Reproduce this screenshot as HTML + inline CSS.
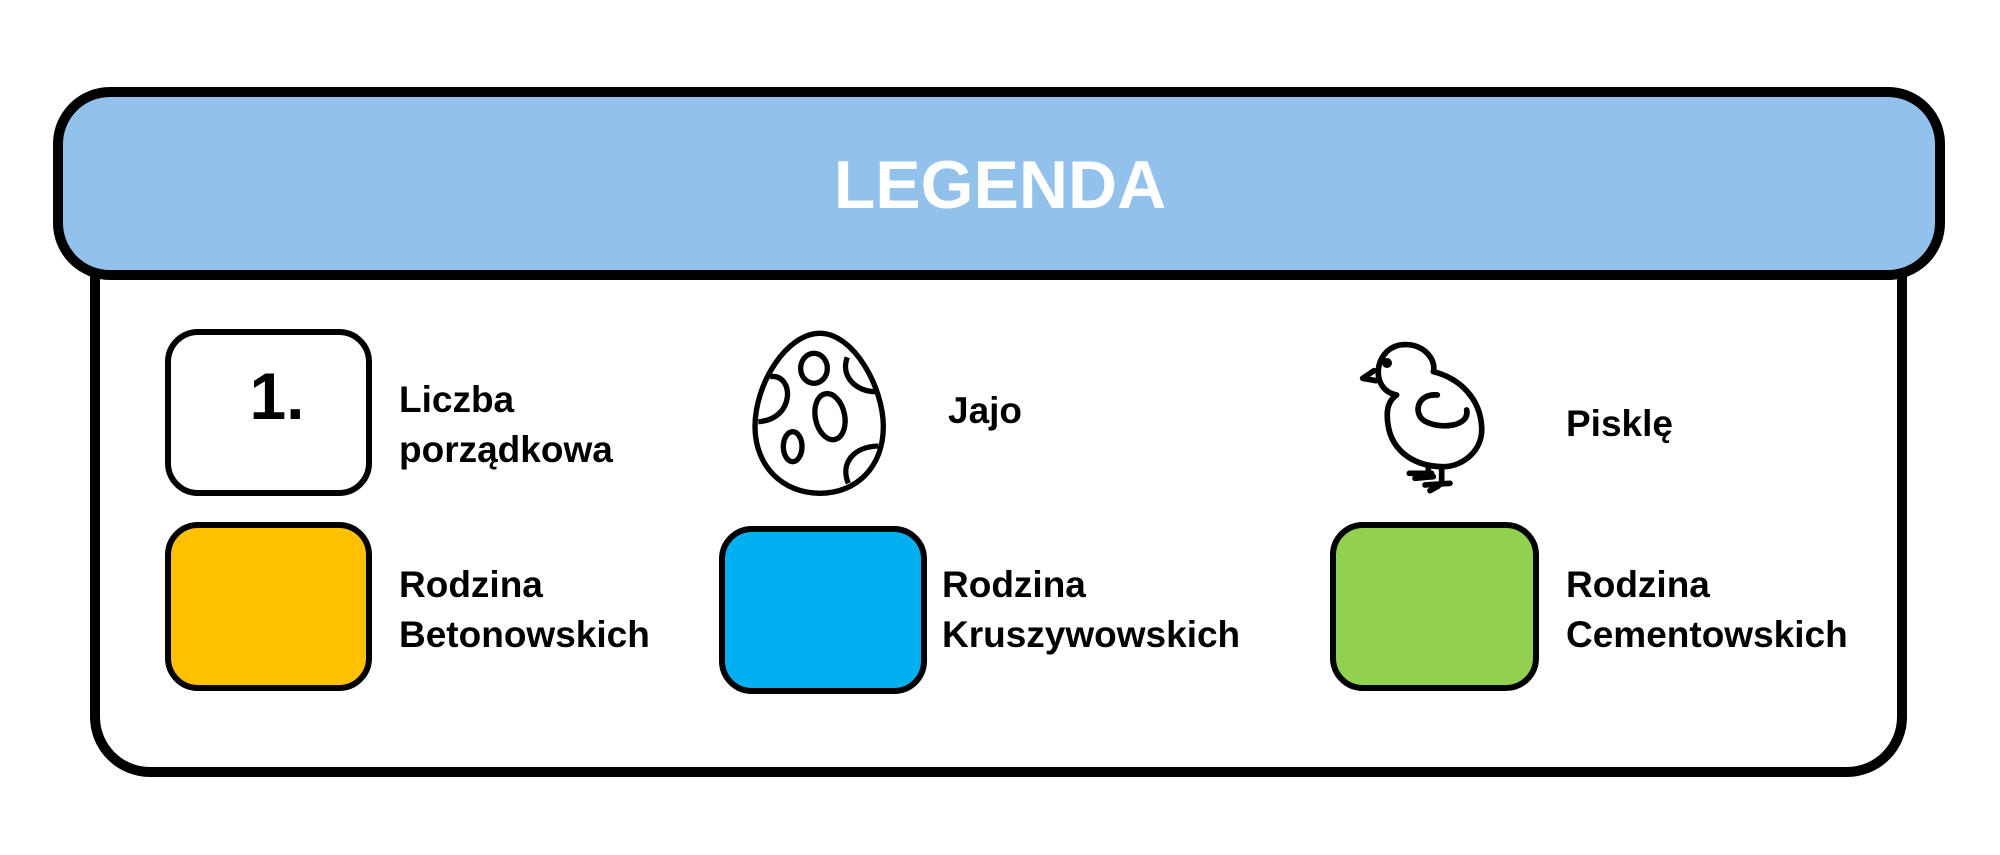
<!DOCTYPE html>
<html><head><meta charset="utf-8"><style>
html,body{margin:0;padding:0;background:#fff;}
svg{display:block;}
text{font-family:"Liberation Sans",sans-serif;font-weight:bold;fill:#000;}
</style></head><body>
<svg width="2000" height="855" viewBox="0 0 2000 855" xmlns="http://www.w3.org/2000/svg">
<rect x="0" y="0" width="2000" height="855" fill="#fff"/>
<!-- body -->
<rect x="95" y="200" width="1807" height="572" rx="55" fill="#fff" stroke="#000" stroke-width="10"/>
<!-- header -->
<rect x="58" y="92" width="1882" height="183" rx="52" fill="#92C1EC" stroke="#000" stroke-width="10"/>
<text x="1000" y="208" font-size="68" fill="#fff" style="fill:#fff" text-anchor="middle">LEGENDA</text>

<!-- number box -->
<rect x="168" y="332" width="201" height="161" rx="30" fill="#fff" stroke="#000" stroke-width="6"/>
<text x="277" y="419" font-size="66" text-anchor="middle">1.</text>
<text x="399" y="412" font-size="37">Liczba</text>
<text x="399" y="462" font-size="37">porządkowa</text>

<!-- egg -->
<g transform="translate(740,320) scale(0.3333)" fill="none" stroke="#000" stroke-width="16">
<path d="M240,40 C340,40 430,200 430,320 C430,440 350,520 240,520 C130,520 45,440 45,320 C45,190 140,40 240,40 Z"/>
<ellipse cx="222" cy="145" rx="40" ry="45"/>
<ellipse cx="270" cy="290" rx="44" ry="70" transform="rotate(-12 270 290)"/>
<ellipse cx="158" cy="380" rx="28" ry="45"/>
<path d="M90,170 C165,160 165,300 55,305"/>
<path d="M322,112 C300,170 350,215 405,215"/>
<path d="M325,490 C300,430 340,380 415,378"/>
</g>
<text x="948" y="423" font-size="37">Jajo</text>

<!-- chick -->
<g transform="translate(1350,330) scale(0.3333)" fill="none" stroke="#000" stroke-width="17" stroke-linecap="round" stroke-linejoin="round">
<path d="M140,195 C60,180 70,60 150,45 C220,35 260,90 250,125 C330,145 390,205 395,290 C400,360 340,410 280,410 C200,410 130,370 115,290 C108,250 110,215 140,195"/>
<path d="M72,122 L38,145 L78,152"/>
<path d="M262,195 C200,190 190,250 222,272 C270,300 360,290 350,240"/>
<path d="M235,410 L235,440 M275,410 L275,462"/>
<path d="M178,430 L245,430 M195,445 L250,440 M225,465 L300,460 M240,482 L265,468"/>
</g>
<circle cx="1387" cy="363" r="5" fill="#000"/>
<text x="1566" y="436" font-size="37">Pisklę</text>

<!-- color boxes -->
<rect x="168" y="525" width="201" height="163" rx="30" fill="#FFC000" stroke="#000" stroke-width="6"/>
<text x="399" y="597" font-size="37">Rodzina</text>
<text x="399" y="647" font-size="37">Betonowskich</text>

<rect x="722" y="529" width="202" height="162" rx="30" fill="#00B0F0" stroke="#000" stroke-width="6"/>
<text x="942" y="597" font-size="37">Rodzina</text>
<text x="942" y="647" font-size="37">Kruszywowskich</text>

<rect x="1333" y="525" width="203" height="163" rx="30" fill="#92D050" stroke="#000" stroke-width="6"/>
<text x="1566" y="597" font-size="37">Rodzina</text>
<text x="1566" y="647" font-size="37">Cementowskich</text>
</svg>
</body></html>
